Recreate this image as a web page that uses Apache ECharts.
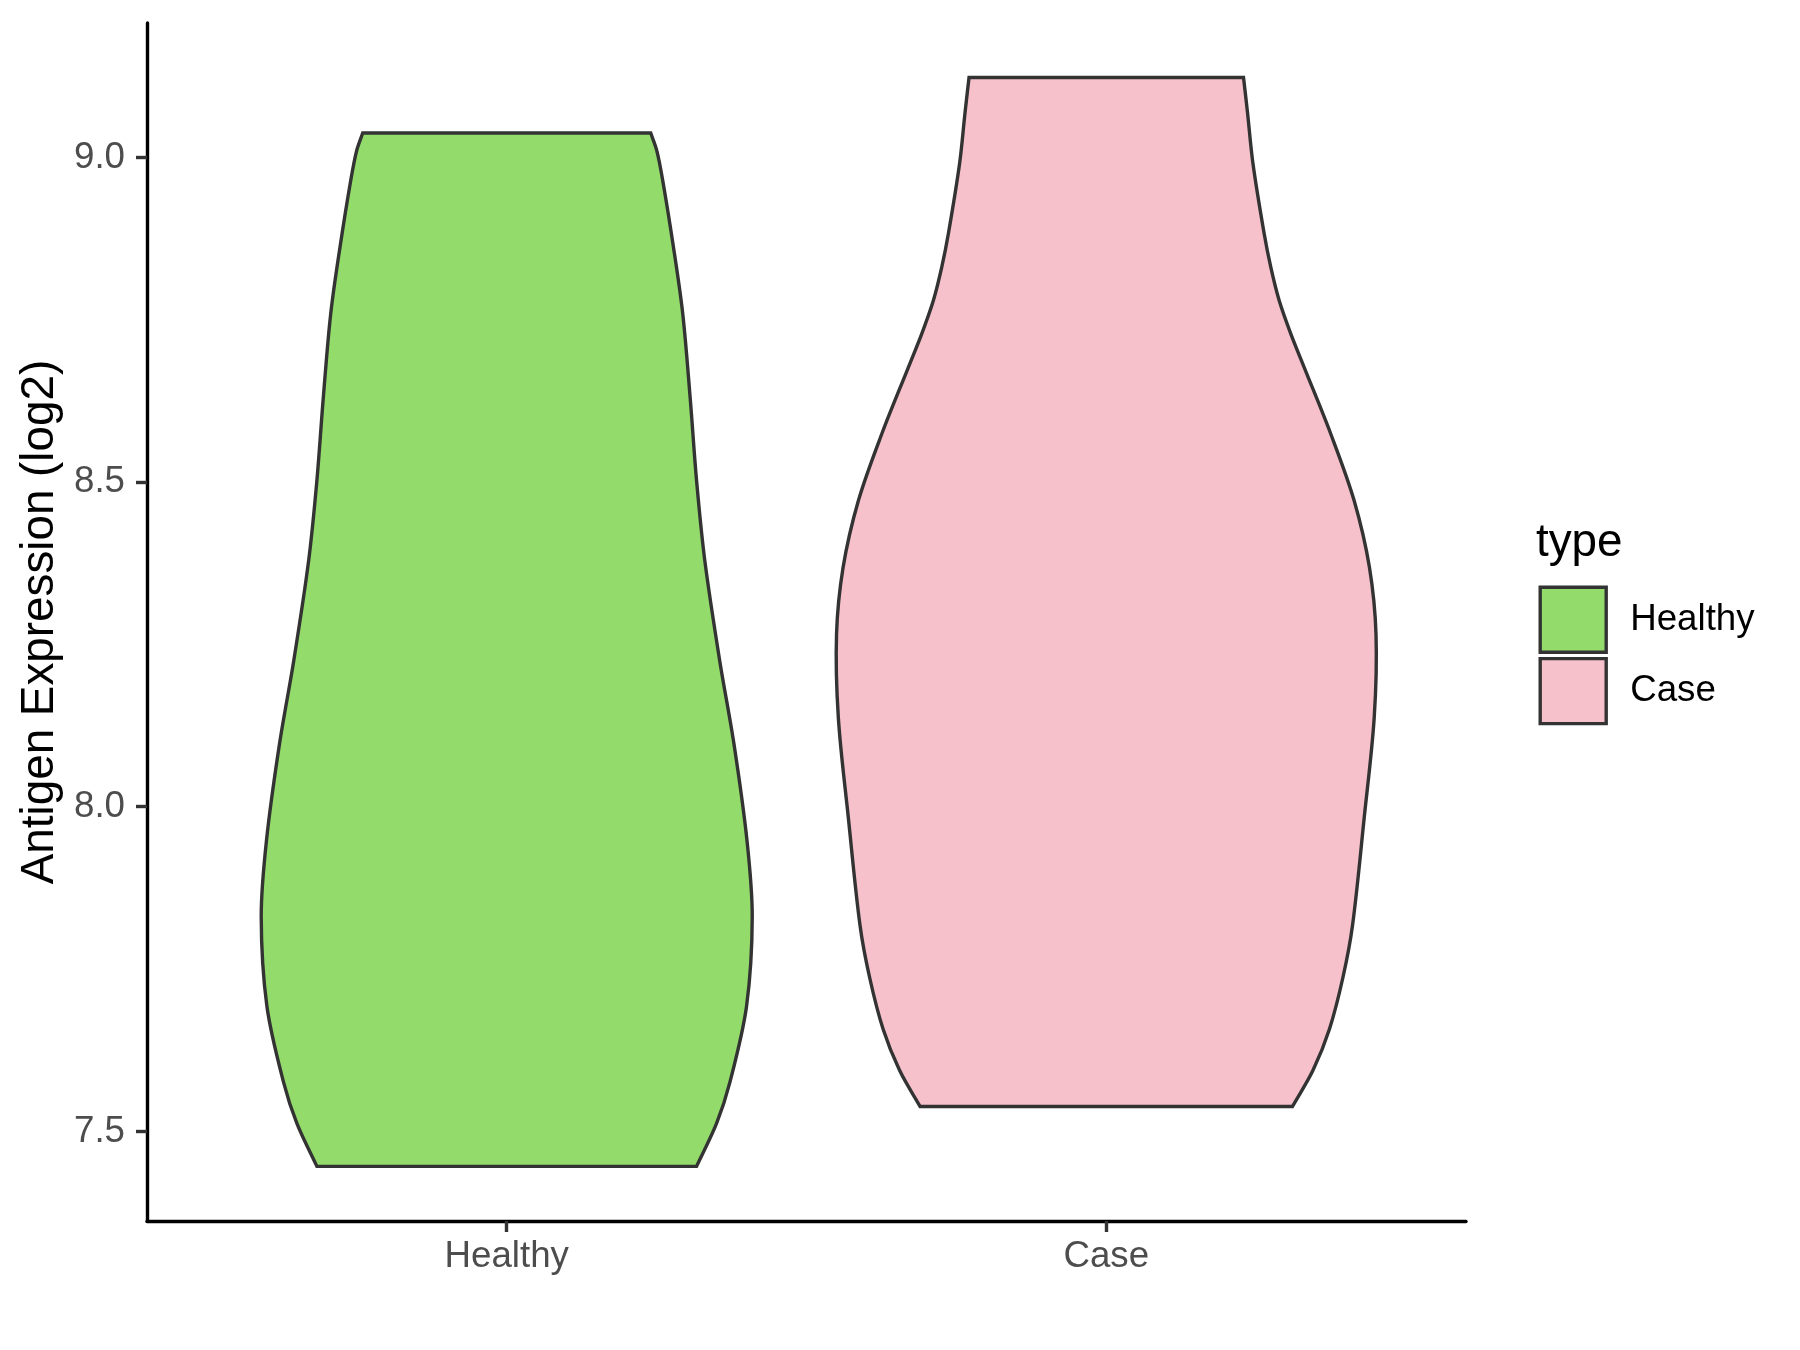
<!DOCTYPE html>
<html><head><meta charset="utf-8">
<script src="https://cdn.jsdelivr.net/npm/echarts@6/dist/echarts.min.js"></script>
<style>html,body{margin:0;padding:0;background:#fff}#chart{width:1800px;height:1350px}</style>
</head><body><div id="chart"></div>
<script>
const categories = ['Healthy', 'Case'];
const healthyY = [9.0375, 9.0108, 8.9645, 8.8617, 8.7590, 8.6305, 8.4996, 8.3775, 8.2246, 8.0962, 7.9475, 7.8307, 7.6927, 7.5758, 7.5123, 7.4461];
const healthyHalfWidth = [0.2402, 0.2502, 0.2602, 0.2781, 0.2936, 0.3059, 0.3169, 0.3306, 0.3553, 0.3791, 0.4008, 0.4095, 0.4000, 0.3723, 0.3500, 0.3166];
const caseY = [9.1230, 9.0698, 8.9903, 8.8824, 8.8309, 8.7795, 8.7282, 8.6767, 8.5740, 8.4712, 8.3684, 8.2657, 8.1371, 7.9830, 7.8170, 7.7374, 7.6577, 7.5940, 7.5384];
const caseHalfWidth = [0.2289, 0.2355, 0.2447, 0.2634, 0.2744, 0.2884, 0.3078, 0.3301, 0.3745, 0.4135, 0.4390, 0.4499, 0.4469, 0.4302, 0.4107, 0.3948, 0.3723, 0.3448, 0.3106];
const yTickValues = [7.5, 8.0, 8.5, 9.0];
const yMin = 7.362, yMax = 9.207;
const colors = ['#93DB6B', '#F7C1CB'];

const FONT = '"Liberation Sans", Arial, Helvetica, sans-serif';
const OUTLINE = '#333333';

function violinSeries(name, idx, ys, ws, color) {
  const xc = idx + 1;
  return {
    type: 'custom',
    name: name,
    data: ys.map((y, i) => [xc, y, ws[i]]),
    encode: { x: 0, y: 1 },
    itemStyle: { color: color },
    renderItem: function (params, api) {
      if (params.dataIndex !== 0) return null;
      const left = ys.map((y, i) => api.coord([xc - ws[i], y]));
      const right = ys.map((y, i) => api.coord([xc + ws[i], y]));
      const n = ys.length;
      // duplicate the four corner vertices so the smoothed outline keeps straight top/bottom edges
      const pts = [];
      pts.push(left[0]);
      for (let i = 0; i < n; i++) pts.push(left[i]);
      pts.push(left[n - 1]);
      pts.push(right[n - 1]);
      for (let i = n - 1; i >= 0; i--) pts.push(right[i]);
      pts.push(right[0]);
      return {
        type: 'polygon',
        shape: { points: pts, smooth: 0.33, smoothConstraint: false },
        style: { fill: color, stroke: OUTLINE, lineWidth: 3.4, lineJoin: 'miter' }
      };
    }
  };
}

const chart = echarts.init(document.getElementById('chart'), null, { renderer: 'canvas' });
chart.setOption({
  animation: false,
  backgroundColor: '#ffffff',
  textStyle: { fontFamily: FONT },
  title: {
    text: 'type', left: 1536, top: 520.5, padding: 0,
    textStyle: { fontSize: 45.8, fontWeight: 'normal', color: '#000', fontFamily: FONT }
  },
  legend: {
    data: categories, orient: 'vertical', left: 1538.5, top: 585.5, padding: 0,
    itemWidth: 66, itemHeight: 65, itemGap: 3, icon: 'rect', selectedMode: false,
    itemStyle: { borderColor: OUTLINE, borderWidth: 3.4 },
    textStyle: { fontSize: 36.7, color: '#000', fontFamily: FONT, padding: [0, 0, 0, 19] }
  },
  grid: { left: 147, right: 334, top: 23, bottom: 129, containLabel: false },
  xAxis: {
    type: 'value', min: 0.4, max: 2.6,
    splitLine: { show: false },
    axisLine: { show: true, onZero: false, lineStyle: { color: '#000', width: 3.4 } },
    axisTick: { show: true, customValues: [1, 2], length: 11, lineStyle: { color: OUTLINE, width: 3.4 } },
    axisLabel: { customValues: [1, 2], formatter: v => categories[Math.round(v) - 1], fontSize: 36.7, color: '#4D4D4D', margin: 17.5, fontFamily: FONT }
  },
  yAxis: {
    type: 'value', min: yMin, max: yMax,
    name: 'Antigen Expression (log2)', nameLocation: 'middle', nameGap: 82,
    nameTextStyle: { fontSize: 45.8, color: '#000', fontFamily: FONT },
    splitLine: { show: false },
    axisLine: { show: true, onZero: false, lineStyle: { color: '#000', width: 3.4 } },
    axisTick: { show: true, customValues: yTickValues, length: 11, lineStyle: { color: OUTLINE, width: 3.4 } },
    axisLabel: { customValues: yTickValues, formatter: v => v.toFixed(1), fontSize: 36.7, color: '#4D4D4D', margin: 22, fontFamily: FONT }
  },
  series: [
    violinSeries('Healthy', 0, healthyY, healthyHalfWidth, colors[0]),
    violinSeries('Case', 1, caseY, caseHalfWidth, colors[1])
  ]
});
</script></body></html>
